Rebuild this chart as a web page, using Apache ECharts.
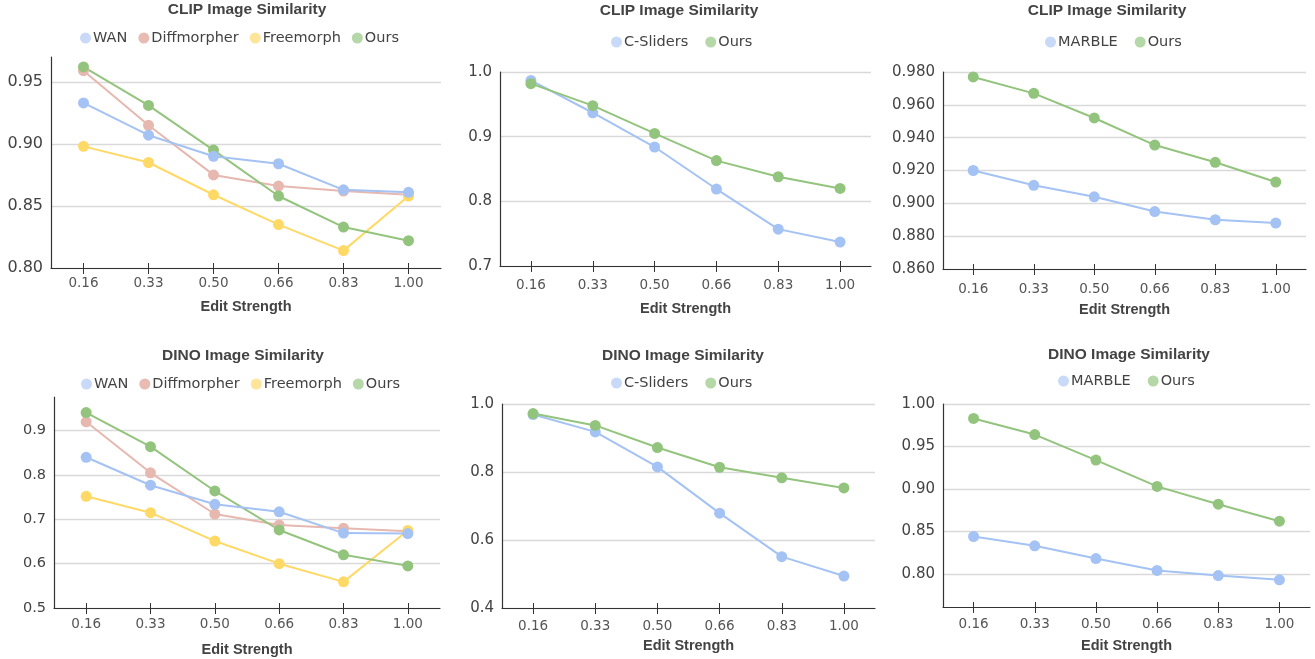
<!DOCTYPE html>
<html>
<head>
<meta charset="utf-8">
<script src="https://cdn.jsdelivr.net/npm/echarts@6/dist/echarts.min.js"></script>
<style>
html,body{margin:0;padding:0;background:#fff;}
#chart{width:1315px;height:659px;}
</style>
</head>
<body>
<div id="chart"></div>
<script>
// ---------- data ----------
const categories = ['0.16', '0.33', '0.50', '0.66', '0.83', '1.00'];

const clipWan      = [0.933, 0.907, 0.890, 0.884, 0.863, 0.861];
const clipDiff     = [0.959, 0.915, 0.875, 0.866, 0.862, 0.859];
const clipFree     = [0.898, 0.885, 0.859, 0.835, 0.814, 0.858];
const clipOursA    = [0.962, 0.931, 0.895, 0.858, 0.833, 0.822];
const clipSliders  = [0.987, 0.937, 0.884, 0.819, 0.757, 0.737];
const clipOursB    = [0.982, 0.948, 0.905, 0.863, 0.838, 0.820];
const clipMarble   = [0.920, 0.911, 0.904, 0.895, 0.890, 0.888];
const clipOursC    = [0.977, 0.967, 0.952, 0.9355, 0.925, 0.913];

const dinoWan      = [0.840, 0.777, 0.734, 0.717, 0.669, 0.668];
const dinoDiff     = [0.920, 0.805, 0.712, 0.687, 0.680, 0.673];
const dinoFree     = [0.752, 0.715, 0.651, 0.600, 0.559, 0.675];
const dinoOursA    = [0.941, 0.864, 0.764, 0.676, 0.620, 0.595];
const dinoSliders  = [0.969, 0.918, 0.815, 0.679, 0.551, 0.494];
const dinoOursB    = [0.972, 0.937, 0.872, 0.814, 0.783, 0.753];
const dinoMarble   = [0.844, 0.833, 0.818, 0.804, 0.798, 0.793];
const dinoOursC    = [0.983, 0.964, 0.934, 0.903, 0.882, 0.862];

const ticksClipA = [0.80, 0.85, 0.90, 0.95];
const ticksClipB = [0.7, 0.8, 0.9, 1.0];
const ticksClipC = [0.86, 0.88, 0.90, 0.92, 0.94, 0.96, 0.98];
const ticksDinoA = [0.5, 0.6, 0.7, 0.8, 0.9];
const ticksDinoB = [0.4, 0.6, 0.8, 1.0];
const ticksDinoC = [0.80, 0.85, 0.90, 0.95, 1.00];

const titleClip = 'CLIP Image Similarity';
const titleDino = 'DINO Image Similarity';
const xName = 'Edit Strength';

// ---------- styles ----------
const COLORS = { WAN: '#a4c2f4', Diffmorpher: '#e6b8af', Freemorph: '#ffd966', Ours: '#93c47d', 'C-Sliders': '#a4c2f4', MARBLE: '#a4c2f4' };
const ICONS  = { WAN: '#c9daf8', Diffmorpher: '#e8bcb3', Freemorph: '#ffe599', Ours: '#b6d7a8', 'C-Sliders': '#c9daf8', MARBLE: '#c9daf8' };
const TEXT = '#434343';

const panels = [
  { title: titleClip, box: [51, 57, 390, 211], range: [0.80, 0.97], ticks: ticksClipA, dec: 2, yFont: 16,
    tPos: [247, 9], lPos: [80, 37], gap: 11, xMargin: 8.5, nameGap: 31,
    legend: ['WAN', 'Diffmorpher', 'Freemorph', 'Ours'],
    series: [['Diffmorpher', clipDiff], ['Freemorph', clipFree], ['Ours', clipOursA], ['WAN', clipWan]] },
  { title: titleClip, box: [500, 72, 371, 194], range: [0.7, 1.0], ticks: ticksClipB, dec: 1, yFont: 15,
    tPos: [679, 10], lPos: [611, 41], gap: 17, xMargin: 12.5, nameGap: 35,
    legend: ['C-Sliders', 'Ours'],
    series: [['C-Sliders', clipSliders], ['Ours', clipOursB]] },
  { title: titleClip, box: [943, 72, 363, 197], range: [0.86, 0.98], ticks: ticksClipC, dec: 3, yFont: 15,
    tPos: [1107, 10], lPos: [1045, 41], gap: 17, xMargin: 13, nameGap: 33,
    legend: ['MARBLE', 'Ours'],
    series: [['MARBLE', clipMarble], ['Ours', clipOursC]] },
  { title: titleDino, box: [54, 397, 386, 211], range: [0.5, 0.976], ticks: ticksDinoA, dec: 1, yFont: 14.5,
    tPos: [243, 355], lPos: [81, 383], gap: 11, xMargin: 9.5, nameGap: 34,
    legend: ['WAN', 'Diffmorpher', 'Freemorph', 'Ours'],
    series: [['Diffmorpher', dinoDiff], ['Freemorph', dinoFree], ['Ours', dinoOursA], ['WAN', dinoWan]] },
  { title: titleDino, box: [502, 404, 373, 204], range: [0.4, 1.0], ticks: ticksDinoB, dec: 1, yFont: 15,
    tPos: [683, 355], lPos: [611, 382], gap: 17, xMargin: 11.5, nameGap: 30,
    legend: ['C-Sliders', 'Ours'],
    series: [['C-Sliders', dinoSliders], ['Ours', dinoOursB]] },
  { title: titleDino, box: [943, 404, 367, 203], range: [0.761, 1.0], ticks: ticksDinoC, dec: 2, yFont: 15,
    tPos: [1129, 354], lPos: [1058, 380], gap: 17, xMargin: 10, nameGap: 31,
    legend: ['MARBLE', 'Ours'],
    series: [['MARBLE', dinoMarble], ['Ours', dinoOursC]] }
];

const option = { animation: false, title: [], legend: [], grid: [], xAxis: [], yAxis: [], series: [] };

panels.forEach((p, i) => {
  option.title.push({
    text: p.title, left: p.tPos[0], top: p.tPos[1] - 7, textAlign: 'center', padding: 0,
    textStyle: { fontFamily: 'Liberation Sans', fontWeight: 'bold', fontSize: 15.5, color: TEXT }
  });
  option.legend.push({
    left: p.lPos[0], top: p.lPos[1] - 6.5, padding: 0, itemGap: p.gap, itemWidth: 11, itemHeight: 11,
    icon: 'circle', selectedMode: false,
    textStyle: { fontFamily: 'DejaVu Sans', fontSize: 14.5, color: TEXT, padding: [0, 0, 0, -3] },
    data: p.legend.map(n => ({ name: n, itemStyle: { color: ICONS[n] } }))
  });
  option.grid.push({ left: p.box[0], top: p.box[1], width: p.box[2], height: p.box[3], containLabel: false });
  // main x axis (labels, outer ticks)
  option.xAxis.push({
    type: 'category', gridIndex: i, data: categories, boundaryGap: true, position: 'bottom',
    name: xName, nameLocation: 'middle', nameGap: p.nameGap,
    nameTextStyle: { fontFamily: 'Liberation Sans', fontWeight: 'bold', fontSize: 14.5, color: TEXT },
    axisLine: { lineStyle: { color: '#333', width: 1.2 } },
    axisTick: { show: true, alignWithLabel: true, length: 6, lineStyle: { color: '#333' } },
    axisLabel: { margin: p.xMargin, fontFamily: 'DejaVu Sans', fontSize: 13.5, color: '#555' },
    splitLine: { show: false }
  });
  // companion axis: inner part of crossing ticks
  option.xAxis.push({
    type: 'category', gridIndex: i, data: categories, boundaryGap: true, position: 'bottom',
    axisLine: { show: false },
    axisTick: { show: true, inside: true, alignWithLabel: true, length: 5, lineStyle: { color: '#333' } },
    axisLabel: { show: false }, splitLine: { show: false }
  });
  option.yAxis.push({
    type: 'value', gridIndex: i, min: p.range[0], max: p.range[1],
    axisLine: { show: true, lineStyle: { color: '#333', width: 1.2 } },
    axisTick: { show: false, customValues: p.ticks },
    axisLabel: { customValues: p.ticks, margin: 8, fontFamily: 'DejaVu Sans', fontSize: p.yFont, color: TEXT,
                 formatter: v => Number(v).toFixed(p.dec) },
    splitLine: { show: true, lineStyle: { color: '#d9d9d9', width: 1.3 } }
  });
  p.series.forEach(([name, data]) => {
    option.series.push({
      type: 'line', name, data, xAxisIndex: i * 2, yAxisIndex: i,
      symbol: 'circle', symbolSize: 11, showSymbol: true,
      lineStyle: { color: COLORS[name], width: 2 },
      itemStyle: { color: COLORS[name] },
      emphasis: { disabled: true }
    });
  });
});

const chart = echarts.init(document.getElementById('chart'), null, { renderer: 'canvas' });
chart.setOption(option);
</script>
</body>
</html>
